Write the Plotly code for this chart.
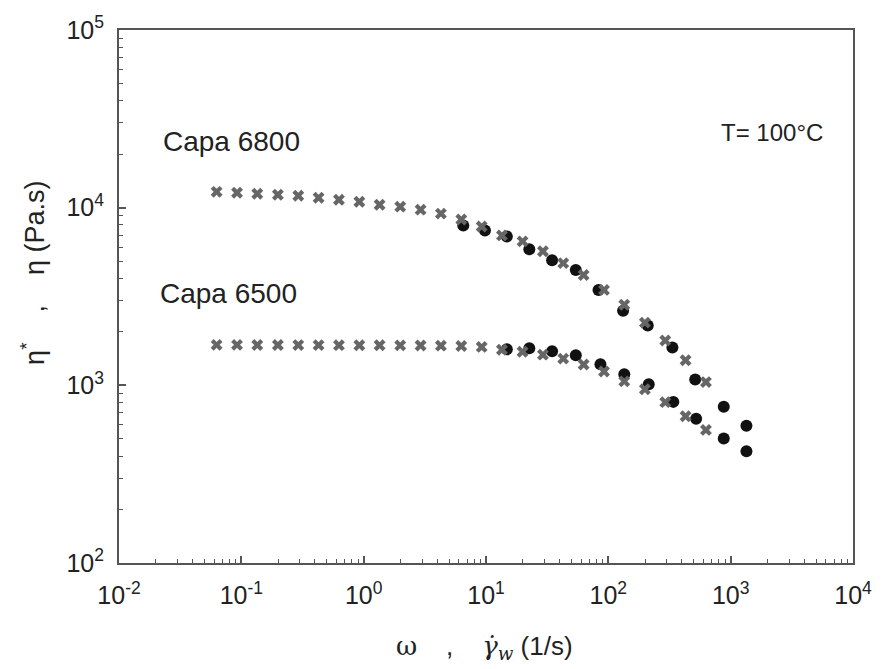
import plotly.graph_objects as go

# ---- data ----
omega_osc = [0.0628, 0.0922, 0.135, 0.199, 0.292, 0.428, 0.628, 0.922, 1.35, 1.99,
             2.92, 4.28, 6.28, 9.22, 13.5, 19.9, 29.2, 42.8, 62.8, 92.2,
             135, 199, 292, 428, 628]
eta6800_osc = [12280, 12125, 11970, 11820, 11665, 11370, 11080, 10800, 10390, 10130,
               9745, 9260, 8575, 7835, 6980, 6463, 5684, 4872, 4176, 3444,
               2841, 2254, 1789, 1384, 1043]
eta6500_osc = [1690, 1690, 1688, 1686, 1685, 1684, 1683, 1682, 1680, 1678,
               1676, 1672, 1665, 1645, 1585, 1546, 1488, 1414, 1310, 1197,
               1053, 950, 804, 670, 561]

gamma6800 = [6.52, 9.81, 14.8, 22.6, 34.7, 54.2, 83.1, 132, 210, 334, 513, 878, 1346]
eta6800_cap = [7936, 7440, 6890, 5833, 5064, 4452, 3444, 2630, 2169, 1635, 1080, 757, 593]
gamma6500 = [14.8, 22.6, 34.7, 54.2, 86.2, 135, 214, 340, 522, 878, 1346]
eta6500_cap = [1594, 1615, 1554, 1476, 1315, 1156, 1013, 807, 649, 502, 425]

x_tickvals = [0.01, 0.1, 1, 10, 100, 1000, 10000]
x_ticktext = ["10<sup>-2</sup>", "10<sup>-1</sup>", "10<sup>0</sup>", "10<sup>1</sup>",
              "10<sup>2</sup>", "10<sup>3</sup>", "10<sup>4</sup>"]
y_tickvals = [100, 1000, 10000, 100000]
y_ticktext = ["10<sup>2</sup>", "10<sup>3</sup>", "10<sup>4</sup>", "10<sup>5</sup>"]

x_minor = [m * 10.0 ** e for e in range(-2, 4) for m in range(2, 10)]
y_minor = [m * 10.0 ** e for e in range(2, 5) for m in range(2, 10)]

FONT = "Liberation Sans, Arial, sans-serif"
AX = "#555555"
TXT = "#222222"

dot_style = dict(symbol="circle", size=12, color="#111111", line=dict(width=0))
cross_style = dict(symbol="x", size=10.5, color="#666666", line=dict(width=0))

fig = go.Figure()
fig.add_trace(go.Scatter(x=gamma6800, y=eta6800_cap, mode="markers", marker=dot_style,
                         name="Capa 6800 capillary", showlegend=False))
fig.add_trace(go.Scatter(x=gamma6500, y=eta6500_cap, mode="markers", marker=dot_style,
                         name="Capa 6500 capillary", showlegend=False))
fig.add_trace(go.Scatter(x=omega_osc, y=eta6800_osc, mode="markers", marker=cross_style,
                         name="Capa 6800 oscillatory", showlegend=False))
fig.add_trace(go.Scatter(x=omega_osc, y=eta6500_osc, mode="markers", marker=cross_style,
                         name="Capa 6500 oscillatory", showlegend=False))

axis_common = dict(
    type="log", showgrid=False, zeroline=False,
    showline=True, linecolor=AX, linewidth=2, mirror=True,
    ticks="inside", ticklen=7, tickwidth=1.5, tickcolor=AX,
    tickfont=dict(family=FONT, size=25, color=TXT),
)

fig.update_xaxes(range=[-2, 4], tickvals=x_tickvals, ticktext=x_ticktext,
                 ticklabelstandoff=9,
                 minor=dict(tickvals=x_minor, ticks="inside", ticklen=4,
                            tickwidth=1.2, tickcolor=AX, showgrid=False),
                 **axis_common)
fig.update_yaxes(range=[2, 5], tickvals=y_tickvals, ticktext=y_ticktext,
                 ticklabelstandoff=8,
                 minor=dict(tickvals=y_minor, ticks="inside", ticklen=4,
                            tickwidth=1.2, tickcolor=AX, showgrid=False),
                 **axis_common)

annotations = [
    dict(text="Capa 6800", x=0.057, y=0.79, xanchor="left", yanchor="middle",
         font=dict(family=FONT, size=28, color=TXT)),
    dict(text="Capa 6500", x=0.053, y=0.505, xanchor="left", yanchor="middle",
         font=dict(family=FONT, size=28, color=TXT)),
    dict(text="T= 100°C", x=0.962, y=0.808, xanchor="right", yanchor="middle",
         font=dict(family=FONT, size=24, color=TXT)),
    dict(text="η<sup>*</sup>    ,    η (Pa.s)", x=-0.118, y=0.545, textangle=-90,
         xanchor="center", yanchor="middle",
         font=dict(family=FONT, size=27, color=TXT)),
    dict(text="<span style='font-family:DejaVu Serif'>ω</span>    ,    "
              "<span style='font-family:DejaVu Serif'><i>γ̇</i><sub><i>w</i></sub></span> (1/s)",
         x=0.498, y=-0.158, xanchor="center", yanchor="middle",
         font=dict(family=FONT, size=26, color=TXT)),
]
for a in annotations:
    a.update(xref="paper", yref="paper", showarrow=False)

fig.update_layout(
    width=884, height=669,
    margin=dict(l=119, r=21, t=25, b=106),
    paper_bgcolor="white", plot_bgcolor="white",
    annotations=annotations,
    showlegend=False,
)

fig.write_html("out.html", config={"displayModeBar": False},
               post_script="document.body.style.margin='0';document.body.style.padding='0';")
